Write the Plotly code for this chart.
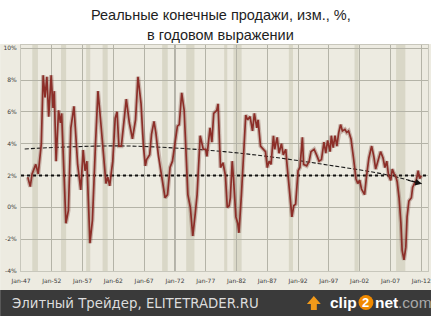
import plotly.graph_objects as go

# ---- data ----
years = [1948.1, 1948.5, 1948.8, 1949.4, 1949.8, 1950.3, 1950.6, 1950.9, 1951.2, 1951.5,
         1951.9, 1952.2, 1952.4, 1952.7, 1953.1, 1953.4, 1953.6, 1954.0, 1954.3, 1954.7,
         1955.1, 1955.6, 1956.2, 1956.7, 1957.1, 1957.4, 1957.7, 1958.2, 1958.6, 1959.1,
         1959.5, 1959.9, 1960.4, 1960.8, 1961.1, 1961.4, 1961.9, 1962.3, 1962.6, 1962.9,
         1963.3, 1963.6, 1964.1, 1964.6, 1965.1, 1965.6, 1966.0, 1966.5, 1966.9, 1967.2,
         1967.4, 1967.9, 1968.2, 1968.6, 1968.9, 1969.3, 1969.8, 1970.4, 1970.8, 1971.2,
         1971.6, 1972.0, 1972.4, 1972.7, 1973.1, 1973.5, 1973.8, 1974.1, 1974.5, 1974.9,
         1975.3, 1975.6, 1976.1, 1976.6, 1977.0, 1977.2, 1977.7, 1978.0, 1978.3, 1978.8,
         1979.0, 1979.4, 1979.8, 1980.2, 1980.5, 1980.8, 1981.0, 1981.3, 1981.5, 1981.9,
         1982.2, 1982.4, 1982.8, 1983.2, 1983.5, 1983.8, 1984.2, 1984.6, 1984.9, 1985.3,
         1985.5, 1985.9, 1986.4, 1986.7, 1987.0, 1987.3, 1987.6, 1988.0, 1988.2, 1988.6,
         1988.9, 1989.3, 1989.6, 1990.0, 1990.2, 1990.6, 1991.0, 1991.3, 1991.6, 1992.0,
         1992.3, 1992.7, 1992.9, 1993.4, 1993.8, 1994.1, 1994.6, 1995.0, 1995.4, 1995.8,
         1996.2, 1996.5, 1996.8, 1997.2, 1997.4, 1997.7, 1998.0, 1998.3, 1998.6, 1998.9,
         1999.2, 1999.6, 1999.9, 2000.2, 2000.6, 2001.0, 2001.4, 2001.7, 2002.0, 2002.3,
         2002.8, 2003.1, 2003.5, 2003.95, 2004.3, 2004.6, 2005.0, 2005.4, 2005.8, 2006.1,
         2006.4, 2006.7, 2007.05, 2007.3, 2007.6, 2007.9, 2008.1, 2008.4, 2008.7, 2008.9,
         2009.2, 2009.5, 2009.7, 2010.0, 2010.4, 2010.6, 2010.9, 2011.2, 2011.5, 2011.75,
         2012.0]
sales_yoy = [1.9, 1.3, 2.1, 2.7, 2.1, 4.0, 8.3, 6.9, 8.2, 5.7,
             8.3, 6.25, 7.3, 2.9, 6.1, 5.3, 5.9, 1.9, -1.0, -0.2,
             5.0, 6.35, 2.7, 1.1, 3.6, 2.3, 2.9, -2.25, -0.8, 4.0,
             7.3, 5.6, 3.5, 1.5, 1.9, 1.35, 2.9, 5.6, 6.0, 3.85,
             3.85, 5.0, 6.8, 5.3, 4.3, 5.5, 8.2, 6.5, 3.75, 2.6,
             3.0, 3.3, 4.6, 5.4, 4.7, 3.3, 2.1, 0.6, 0.8, 2.5,
             2.9, 4.0, 5.1, 5.2, 7.2, 6.1, 3.75, 0.8, 0.0, -1.8,
             -0.4, 0.8, 4.5, 3.65, 3.65, 3.2, 5.0, 4.1, 5.9, 6.1,
             6.5, 2.5, 2.8, 2.0, 0.0, 0.1, 0.6, 2.9, 1.9, -0.6,
             -1.0, -1.6, 0.8, 4.0, 5.8, 5.5, 5.7, 4.8, 5.9, 5.0,
             5.5, 3.85, 3.65, 3.5, 2.5, 2.9, 2.7, 4.5, 3.65, 4.4,
             3.4, 4.0, 3.3, 3.65, 2.7, 1.0, -0.6, 0.1, 0.2, 2.3,
             2.5, 4.4, 2.7, 2.6, 2.9, 3.5, 3.65, 3.3, 2.9, 3.0,
             4.1, 3.4, 4.2, 3.5, 4.5, 3.75, 4.5, 3.85, 4.7, 5.2,
             4.8, 4.9, 4.7, 4.8, 4.3, 3.1, 1.8, 1.5, 1.7, 1.15,
             0.8, 1.9, 3.1, 3.85, 3.2, 2.4, 3.0, 3.5, 3.1, 2.5,
             2.9, 2.0, 1.7, 2.4, 2.1, 1.9, 1.6, 0.6, -1.0, -2.7,
             -3.3, -2.5, -0.6, 0.4, 0.6, 1.25, 1.5, 1.7, 2.3, 1.8,
             2.0]

trend_years = [1947.6, 1955, 1963, 1971, 1980, 1988, 1997, 2006.5, 2012.1]
trend_vals = [3.67, 3.8, 3.86, 3.75, 3.5, 3.15, 2.65, 2.04, 1.48]

avg_years = [1947.0, 2013.1]
avg_vals = [2.0, 2.0]

rec_start = [1948.83, 1953.5, 1957.58, 1960.25, 1969.92, 1973.83, 1980.0, 1981.5, 1990.5, 2001.17, 2007.92]
rec_end = [1949.75, 1954.33, 1958.25, 1961.08, 1970.83, 1975.17, 1980.5, 1982.83, 1991.17, 2001.83, 2009.42]

tick_years = [1947, 1952, 1957, 1962, 1967, 1972, 1977, 1982, 1987, 1992, 1997, 2002, 2007, 2012]
tick_labels = ["Jan-47", "Jan-52", "Jan-57", "Jan-62", "Jan-67", "Jan-72", "Jan-77", "Jan-82",
               "Jan-87", "Jan-92", "Jan-97", "Jan-02", "Jan-07", "Jan-12"]
y_ticks = [-4, -2, 0, 2, 4, 6, 8, 10]
y_labels = ["-4%", "-2%", "0%", "2%", "4%", "6%", "8%", "10%"]

title_line1 = "Реальные конечные продажи, изм., %,"
title_line2 = "в годовом выражении"
footer_text = "Элитный Трейдер, ELITETRADER.RU"

# ---- layout geometry ----
W, H = 434, 316
ML, MR, MT, MB = 21, 3, 45, 45
PW, PH = W - ML - MR, H - MT - MB


def px(xp):
    return (xp - ML) / PW


def py(yp):
    return (H - MB - yp) / PH


BG = "#EDEBE1"
BAND = "#D9D7C7"
GRID = "#B4B3A7"

fig = go.Figure()

shapes = []
shapes.append(dict(type="rect", xref="paper", yref="paper", x0=px(0), x1=px(W), y0=py(290), y1=py(44),
                   fillcolor=BG, line=dict(width=0), layer="below"))
shapes.append(dict(type="rect", xref="paper", yref="paper", x0=px(0), x1=px(W), y0=py(H + 2), y1=py(290),
                   fillcolor="#3A3A3A", line=dict(width=0), layer="above"))
for s, e in zip(rec_start, rec_end):
    shapes.append(dict(type="rect", xref="x", yref="paper", x0=s, x1=e, y0=0, y1=1,
                       fillcolor=BAND, line=dict(width=0), layer="below"))
shapes.append(dict(type="line", xref="x", yref="paper", x0=1972, x1=1972, y0=0, y1=1,
                   line=dict(color="#6E6D66", width=1), layer="below"))
# clip2net logo pieces
shapes.append(dict(type="circle", xref="paper", yref="paper", x0=px(361), x1=px(376), y0=py(310), y1=py(295),
                   fillcolor="#F08A00", line=dict(width=0), layer="above"))
shapes.append(dict(type="path", xref="paper", yref="paper",
                   path=(f"M {px(309)} {py(304)} L {px(316)} {py(296)} L {px(323)} {py(304)} "
                         f"L {px(319)} {py(304)} L {px(319)} {py(310)} L {px(313)} {py(310)} "
                         f"L {px(313)} {py(304)} Z"),
                   fillcolor="#F29A1A", line=dict(width=0), layer="above"))

fig.add_trace(go.Scatter(x=avg_years, y=avg_vals, mode="lines",
                         line=dict(color="#111111", width=2.2, dash="dot"), hoverinfo="skip"))
fig.add_trace(go.Scatter(x=trend_years, y=trend_vals, mode="lines", line_shape="spline",
                         line=dict(color="#1A1A1A", width=1.1, dash="4px,2px"), hoverinfo="skip"))
fig.add_trace(go.Scatter(x=years, y=sales_yoy, mode="lines",
                         line=dict(color="rgba(110,50,40,0.3)", width=4.2), hoverinfo="skip"))
fig.add_trace(go.Scatter(x=years, y=sales_yoy, mode="lines",
                         line=dict(color="#8C2E28", width=1.7)))


def ptext(x, y, text, size, color, anchor="center", family="Liberation Sans"):
    return dict(x=px(x), y=py(y), xref="paper", yref="paper", xanchor=anchor, yanchor="middle",
                showarrow=False, text=text, font=dict(family=family, size=size, color=color))


annotations = [
    dict(x=trend_years[-1], y=trend_vals[-1], ax=2009.6, ay=1.72, xref="x", yref="y", axref="x", ayref="y",
         showarrow=True, arrowhead=2, arrowsize=1.2, arrowwidth=1.1, arrowcolor="#111111", text=""),
    ptext(222, 15, title_line1, 14.5, "#1E1E1E"),
    ptext(222, 35, title_line2, 14.5, "#1E1E1E"),
    ptext(10, 303, footer_text, 13.3, "#DDDDDD", anchor="left", family="DejaVu Sans"),
    ptext(361, 302, "<b>clip</b>", 15.5, "#FFFFFF", anchor="right"),
    ptext(368.5, 302.5, "<b>2</b>", 13, "#FFFFFF"),
    ptext(376, 302, "<b>net</b>", 15.5, "#FFFFFF", anchor="left"),
    ptext(399, 302, ".com", 15.5, "#A8A8A8", anchor="left"),
]

fig.update_layout(
    width=W, height=H,
    margin=dict(l=ML, r=MR, t=MT, b=MB),
    paper_bgcolor="white",
    plot_bgcolor=BG,
    showlegend=False,
    xaxis=dict(range=[1947, 2013.1], tickvals=tick_years, ticktext=tick_labels,
               showgrid=True, gridcolor=GRID, gridwidth=1, zeroline=False,
               ticks="", ticklabeloverflow="allow", ticklabelstandoff=4,
               tickfont=dict(family="DejaVu Sans", size=6, color="#3A3A3A"),
               showline=True, linecolor="#C8C7BC", mirror=True),
    yaxis=dict(range=[-4, 10.2], tickvals=y_ticks, ticktext=y_labels,
               showgrid=True, gridcolor=GRID, gridwidth=1, zeroline=False,
               ticks="", ticklabelstandoff=2,
               tickfont=dict(family="DejaVu Sans", size=6, color="#3A3A3A"),
               showline=True, linecolor="#C8C7BC", mirror=True),
    shapes=shapes,
    annotations=annotations,
)

fig.write_html("out.html")
